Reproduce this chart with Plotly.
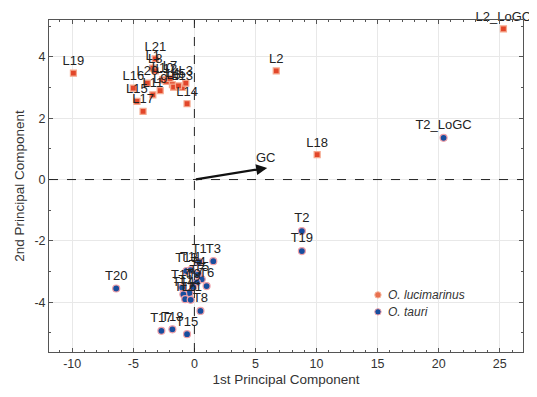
import plotly.graph_objects as go

# ---- data ----
l_names = ["L19", "L2", "L18", "L2_LoGC", "L14", "L17", "L15", "L16", "L21", "L1",
           "L8", "L10", "L20", "L4", "L6", "L13", "L3", "L9", "L11", "L12", "L7", "L5"]
l_pc1 = [-9.9, 6.7, 10.05, 25.3, -0.6, -4.2, -4.7, -5.0, -3.2, -3.4,
         -3.2, -2.6, -3.85, -1.8, -1.7, -1.0, -0.7, -2.8, -3.4, -2.3, -2.0, -1.3]
l_pc2 = [3.47, 3.54, 0.81, 4.91, 2.47, 2.22, 2.55, 2.98, 3.93, 3.63,
         3.54, 3.25, 3.14, 3.09, 3.01, 3.0, 3.14, 2.9, 2.76, 3.2, 3.3, 3.05]

t_names = ["T2_LoGC", "T2", "T19", "T20", "T3", "T1", "T13", "T11", "T4", "T5",
           "T6", "T7", "T9", "T10", "T12", "T14", "T16", "T21", "T8", "T17", "T18", "T15"]
t_pc1 = [20.4, 8.8, 8.8, -6.4, 1.55, 0.4, -0.65, -0.3, 0.3, 0.6,
         1.0, 0.2, -0.1, -1.0, -0.4, -0.9, -0.75, -0.3, 0.5, -2.7, -1.8, -0.6]
t_pc2 = [1.36, -1.68, -2.33, -3.55, -2.66, -2.69, -2.98, -2.95, -3.1, -3.25,
         -3.47, -3.35, -3.5, -3.52, -3.7, -3.74, -3.9, -3.92, -4.28, -4.93, -4.88, -5.04]

gc_vector = (5.96, 0.38)
gc_label = "GC"

legend_labels = ["<i>O. lucimarinus</i>", "<i>O. tauri</i>"]

x_ticks = [-10, -5, 0, 5, 10, 15, 20, 25]
y_ticks = [-4, -2, 0, 2, 4]
x_range = [-11.9, 26.9]
y_range = [-5.62, 5.2]

font_family = "Liberation Sans, Arial, sans-serif"
l_color, l_edge = "#E2462A", "#F6A98E"
t_color, t_edge = "#174E9E", "#F0A0A8"

fig = go.Figure()

fig.add_trace(go.Scatter(
    x=l_pc1, y=l_pc2, text=l_names, mode="markers+text",
    name="O. lucimarinus", showlegend=False, cliponaxis=False,
    textposition="top center",
    textfont=dict(size=13, color="#222222", family=font_family),
    marker=dict(symbol="square", size=6, color=l_color,
                line=dict(color=l_edge, width=1.2)),
))
fig.add_trace(go.Scatter(
    x=t_pc1, y=t_pc2, text=t_names, mode="markers+text",
    name="O. tauri", showlegend=False, cliponaxis=False,
    textposition="top center",
    textfont=dict(size=13, color="#222222", family=font_family),
    marker=dict(symbol="circle", size=7, color=t_color,
                line=dict(color=t_edge, width=1.2)),
))

# zero reference lines
fig.add_hline(y=0, line=dict(color="#222222", width=1, dash="dash"))
fig.add_vline(x=0, line=dict(color="#222222", width=1, dash="dash"))

# GC loading arrow
fig.add_annotation(x=gc_vector[0], y=gc_vector[1], ax=0, ay=0,
                   xref="x", yref="y", axref="x", ayref="y",
                   showarrow=True, arrowhead=2, arrowsize=1, arrowwidth=2.2,
                   arrowcolor="#111111", text="")
fig.add_annotation(x=gc_vector[0], y=gc_vector[1], xref="x", yref="y",
                   text=gc_label, showarrow=False, yshift=10, xshift=-1,
                   font=dict(size=13, color="#222222", family=font_family))

# compact legend (marker glyph + italic label), drawn in plot-area coordinates
legend_marker_x = 0.694
legend_text_x = 0.712
legend_rows_y = [0.172, 0.121]
legend_fill = ["#E8704F", t_color]
legend_line = ["#F6B8A0", t_edge]
for lbl, yy, fc, lc in zip(legend_labels, legend_rows_y, legend_fill, legend_line):
    fig.add_shape(type="circle", xref="paper", yref="paper",
                  xsizemode="pixel", ysizemode="pixel",
                  xanchor=legend_marker_x, yanchor=yy,
                  x0=-3.2, x1=3.2, y0=-3.2, y1=3.2,
                  fillcolor=fc, line=dict(color=lc, width=1))
    fig.add_annotation(x=legend_text_x, y=yy, xref="paper", yref="paper",
                       text=lbl, showarrow=False, xanchor="left", yanchor="middle",
                       font=dict(size=12, color="#333333", family=font_family))

axis_common = dict(
    showgrid=True, gridcolor="#E8E8E8", gridwidth=1,
    showline=True, linecolor="#555555", linewidth=1, mirror="ticks",
    ticks="inside", ticklen=4, tickcolor="#555555",
    tickfont=dict(size=12.5, color="#333333", family=font_family),
    zeroline=False, automargin=False,
)

fig.update_xaxes(
    range=x_range, tickvals=x_ticks, ticktext=[str(v) for v in x_ticks],
    minor=dict(dtick=1, ticks="inside", ticklen=2, tickcolor="#555555", showgrid=False),
    title=dict(text="1st Principal Component", standoff=4,
               font=dict(size=13.5, color="#333333", family=font_family)),
    **axis_common,
)
fig.update_yaxes(
    range=y_range, tickvals=y_ticks, ticktext=[str(v) for v in y_ticks],
    minor=dict(dtick=1, ticks="inside", ticklen=2, tickcolor="#555555", showgrid=False),
    title=dict(text="2nd Principal Component", standoff=6,
               font=dict(size=13.5, color="#333333", family=font_family)),
    **axis_common,
)

# page body adds an 8px offset, so the figure is 8px smaller and margins shifted
fig.update_layout(
    width=529, height=389,
    margin=dict(l=41, r=14, t=12, b=45),
    plot_bgcolor="white", paper_bgcolor="white",
    font=dict(family=font_family),
    showlegend=False,
)

fig.write_html("out.html")
